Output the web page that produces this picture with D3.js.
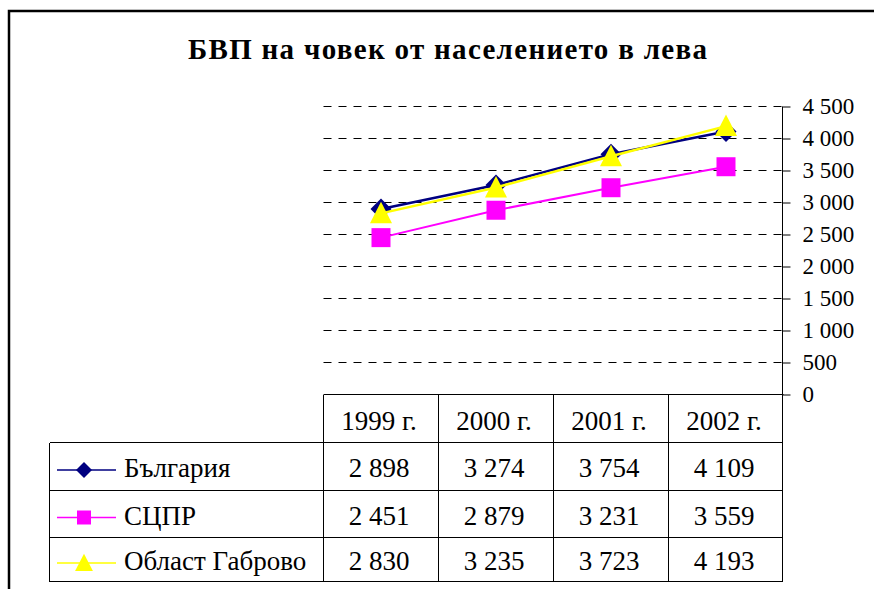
<!DOCTYPE html>
<html>
<head>
<meta charset="utf-8">
<script src="https://cdn.jsdelivr.net/npm/d3@7"></script>
<style>
  html, body { margin: 0; padding: 0; background: #fff; }
  svg { display: block; }
  text { font-family: "Liberation Serif", "Times New Roman", serif; fill: #000; }
</style>
</head>
<body>
<svg id="chart" width="874" height="589"></svg>
<script>
// ---- data ----
const title = "БВП на човек от населението в лева";
const categories = ["1999 г.", "2000 г.", "2001 г.", "2002 г."];
const seriesNames = ["България", "СЦПР", "Област Габрово"];
const bulgaria = [2898, 3274, 3754, 4109];
const scpr = [2451, 2879, 3231, 3559];
const gabrovo = [2830, 3235, 3723, 4193];
const yTicks = [0, 500, 1000, 1500, 2000, 2500, 3000, 3500, 4000, 4500];
const yMax = 4500;

// ---- styles ----
const colors = ["#000080", "#FF00FF", "#FFFF00"];
const shapes = ["diamond", "square", "triangle"];
const series = seriesNames.map((name, i) => ({
  name, values: [bulgaria, scpr, gabrovo][i], color: colors[i], shape: shapes[i]
}));

const svg = d3.select("#chart");
const loc = d3.formatLocale({ decimal: ",", thousands: " ", grouping: [3], currency: ["", ""] });
const fmt = loc.format(",d");

// ---- layout ----
const plotLeft = 323.5, plotRight = 783.5, plotTop = 106.5, plotBottom = 394.5;
const rowEdges = [394.5, 442.5, 490.5, 537.5, 581.5];
const legendLeft = 49.5;

const x = d3.scaleBand().domain(categories).range([plotLeft, plotRight]).padding(0);
const y = d3.scaleLinear().domain([0, yMax]).range([plotBottom, plotTop]);
const cx = c => x(c) + x.bandwidth() / 2;

// outer frame (extends past the viewport)
svg.append("rect")
  .attr("x", 9).attr("y", 11).attr("width", 900).attr("height", 620)
  .attr("fill", "none").attr("stroke", "#000").attr("stroke-width", 2.5);

// title
svg.append("text")
  .attr("x", 447.5).attr("y", 59)
  .attr("text-anchor", "middle")
  .attr("font-size", 29).attr("font-weight", "bold")
  .attr("textLength", 519).attr("lengthAdjust", "spacing")
  .text(title);

// gridlines
svg.append("g").selectAll("line")
  .data(yTicks.filter(t => t > 0))
  .join("line")
  .attr("x1", plotLeft).attr("x2", plotRight - 1)
  .attr("y1", d => y(d)).attr("y2", d => y(d))
  .attr("stroke", "#000").attr("stroke-width", 1)
  .attr("stroke-dasharray", "8,7");

// y axis on right
const yAxis = d3.axisRight(y).tickValues(yTicks).tickSize(8).tickPadding(12).tickFormat(fmt);
const gy = svg.append("g").attr("transform", `translate(${plotRight - 1},0)`).call(yAxis);
gy.select(".domain").attr("d", `M0,${plotTop}V${plotBottom}`).attr("stroke", "#000");
gy.selectAll(".tick line").attr("stroke", "#000");
gy.selectAll(".tick text")
  .attr("font-family", "Liberation Serif, Times New Roman, serif")
  .attr("font-size", 23).attr("dy", null).attr("y", 0)
  .attr("dominant-baseline", "auto")
  .attr("transform", "translate(0,7)")
  .attr("fill", "#000");

// x axis baseline
svg.append("line")
  .attr("x1", plotLeft).attr("x2", plotRight)
  .attr("y1", y(0)).attr("y2", y(0))
  .attr("stroke", "#000");

// ---- data table ----
const tg = svg.append("g").attr("stroke", "#000").attr("stroke-width", 1).attr("shape-rendering", "crispEdges");
// vertical lines for category columns
categories.forEach(c => {
  tg.append("line").attr("x1", x(c)).attr("x2", x(c)).attr("y1", rowEdges[0]).attr("y2", rowEdges[4]);
});
tg.append("line").attr("x1", plotRight - 1).attr("x2", plotRight - 1).attr("y1", rowEdges[0]).attr("y2", rowEdges[4]);
// legend column left
tg.append("line").attr("x1", legendLeft).attr("x2", legendLeft).attr("y1", rowEdges[1]).attr("y2", rowEdges[4]);
// horizontal lines
rowEdges.slice(1).forEach(ry => {
  tg.append("line").attr("x1", legendLeft).attr("x2", plotRight - 1).attr("y1", ry).attr("y2", ry);
});

// header
svg.append("g").selectAll("text").data(categories).join("text")
  .attr("x", d => cx(d) - 2).attr("y", (rowEdges[0] + rowEdges[1]) / 2 + 11)
  .attr("text-anchor", "middle").attr("font-size", 27)
  .text(d => d);

// marker path generator
function markerPath(shape, s) {
  if (shape === "diamond") return `M0,${-s}L${s},0L0,${s}L${-s},0Z`;
  if (shape === "square") return `M${-s},${-s}H${s}V${s}H${-s}Z`;
  return `M0,${-s * 1.1}L${s * 1.05},${s * 0.95}L${-s * 1.05},${s * 0.95}Z`;
}

// rows
series.forEach((s, i) => {
  const mid = (rowEdges[i + 1] + rowEdges[i + 2]) / 2;
  const row = svg.append("g");
  row.selectAll("text.val").data(s.values).join("text")
    .attr("class", "val")
    .attr("x", (d, j) => cx(categories[j]) - 2).attr("y", mid + 10.5)
    .attr("text-anchor", "middle").attr("font-size", 27)
    .text(d => fmt(d));
  // legend key
  const ky = mid + 3.5;
  row.append("line").attr("x1", 57).attr("x2", 116).attr("y1", ky).attr("y2", ky)
    .attr("stroke", s.color).attr("stroke-width", 1.5);
  const ms = s.shape === "diamond" ? 8 : (s.shape === "square" ? 7 : 8.5);
  row.append("path").attr("d", markerPath(s.shape, ms))
    .attr("transform", `translate(84,${ky})`).attr("fill", s.color);
  row.append("text").attr("x", 124).attr("y", mid + 10.5).attr("font-size", 27).text(s.name);
});

// ---- series lines + markers ----
const line = d3.line().x((d, j) => cx(categories[j])).y(d => y(d));
series.forEach(s => {
  const g = svg.append("g");
  g.append("path").datum(s.values).attr("d", line)
    .attr("fill", "none").attr("stroke", s.color).attr("stroke-width", s.shape === "square" ? 2 : 2.5);
  const ms = s.shape === "diamond" ? 10.5 : (s.shape === "square" ? 9.5 : 10.5);
  g.selectAll("path.m").data(s.values).join("path").attr("class", "m")
    .attr("d", markerPath(s.shape, ms))
    .attr("transform", (d, j) => `translate(${cx(categories[j])},${y(d)})`)
    .attr("fill", s.color);
});
</script>
</body>
</html>
